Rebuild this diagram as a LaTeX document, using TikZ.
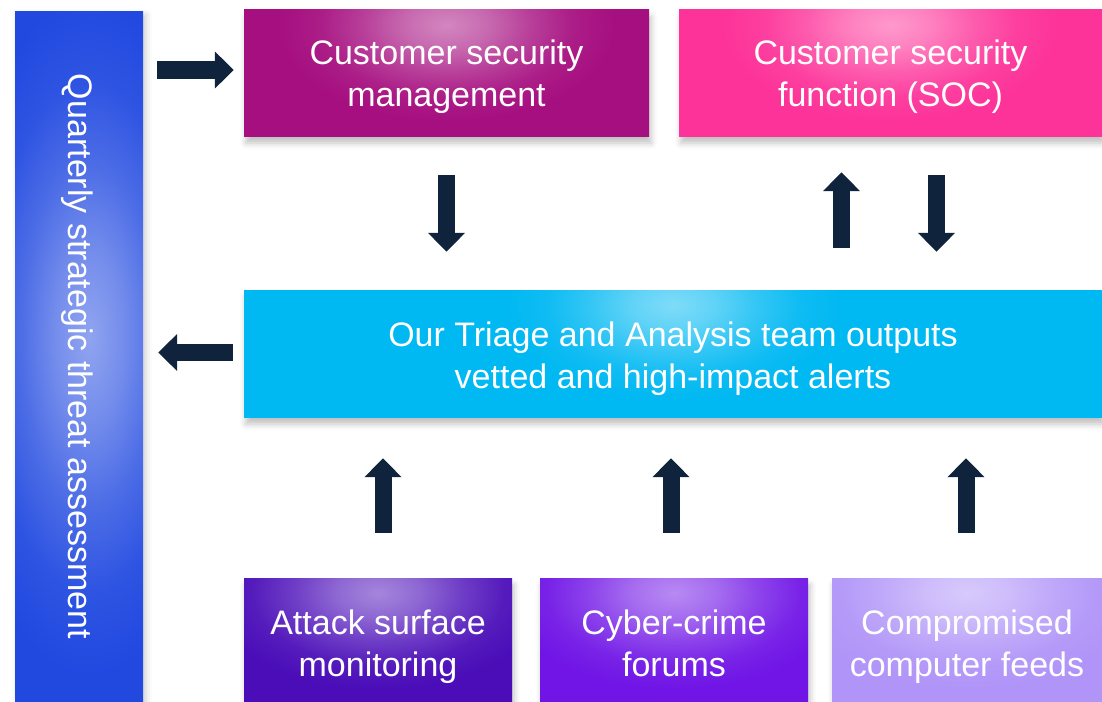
\documentclass[tikz,border=0pt]{standalone}
\usepackage{fontspec}
\setmainfont{Liberation Sans}
\usetikzlibrary{arrows.meta,positioning,calc,shadows.blur}

\definecolor{barblue}{HTML}{2149E0}
\definecolor{mgmtpurple}{HTML}{A60F80}
\definecolor{socpink}{HTML}{FD3399}
\definecolor{triagecyan}{HTML}{00B8F2}
\definecolor{atkviolet}{HTML}{4A0DB8}
\definecolor{forumviolet}{HTML}{7015E6}
\definecolor{feedlilac}{HTML}{B094F8}
\definecolor{arrowink}{HTML}{0F243C}

% soft glow: light in the middle, fading out to the base colour
\colorlet{glowc}{white}\colorlet{basec}{black}
\pgfdeclareradialshading[glowc,basec]{boxglow}{\pgfpoint{0bp}{0bp}}{%
  color(0bp)=(glowc); color(2bp)=(glowc!75!basec); color(4bp)=(glowc!40!basec);
  color(6bp)=(glowc!12!basec); color(8bp)=(basec); color(50bp)=(basec)}

\tikzset{
  box/.style={fill=#1, inner sep=0pt,
    blur shadow={shadow xshift=2pt, shadow yshift=-7pt, shadow blur radius=6pt, shadow opacity=25},
    path picture={\colorlet{glowc}{#1!50!white}\colorlet{basec}{#1}
      \shade[shading=boxglow]
      ($(path picture bounding box.north)+(-525,-285)$) rectangle
      ($(path picture bounding box.north)+(525,315)$);}},
  boxtext/.style={text=white, align=center, inner sep=0pt, anchor=base,
    font=\fontsize{34}{42}\selectfont},
  blockarr/.style={draw=arrowink, line width=17pt,
    -{Triangle[length=19pt, width=36pt, fill=arrowink]}}
}

\begin{document}
\begin{tikzpicture}[x=1pt, y=-1pt]
  \useasboundingbox (0,0) rectangle (1102,701);

  % the long bar on the left
  \node[fill=barblue, minimum width=128pt, minimum height=689pt, inner sep=0pt,
        blur shadow={shadow xshift=3pt, shadow yshift=-3pt, shadow blur radius=6pt, shadow opacity=20},
        path picture={\colorlet{glowc}{barblue!50!white}\colorlet{basec}{barblue}
          \shade[shading=boxglow]
          ($(path picture bounding box.center)+(-415,-1080)$) rectangle
          ($(path picture bounding box.center)+(435,1040)$);}]
        (bar) at (79,356.5) {};
  \node[boxtext, rotate=-90] (bartext) at (68,356.5) {Quarterly strategic threat assessment};

  % top row
  \node[box=mgmtpurple, minimum width=405pt, minimum height=126pt] (mgmt) at (446.5,73) {};
  \node[box=socpink, minimum width=423pt, minimum height=126pt] (soc) at (890.5,73) {};
  \node[boxtext] (mgmttext) at (mgmt.center |- 0,106.5) {Customer security\\management};
  \node[boxtext] (soctext) at (soc.center |- 0,106.5) {Customer security\\function (SOC)};

  % the triage team
  \node[box=triagecyan, minimum width=858pt, minimum height=127pt] (triage) at (673,353.5) {};
  \node[boxtext] (triagetext) at (triage.center |- 0,388) {Our Triage and Analysis team outputs\\vetted and high-impact alerts};

  % sources at the bottom
  \node[box=atkviolet, minimum width=268pt, minimum height=123pt] (atk) at (378,639.5) {};
  \node[box=forumviolet, minimum width=268pt, minimum height=123pt] (forums) at (674,639.5) {};
  \node[box=feedlilac, minimum width=270pt, minimum height=123pt] (feeds) at (967,639.5) {};
  \node[boxtext] (atktext) at (atk.center |- 0,676) {Attack surface\\monitoring};
  \node[boxtext] (forumstext) at (forums.center |- 0,676) {Cyber-crime\\forums};
  \node[boxtext] (feedstext) at (feeds.center |- 0,676) {Compromised\\computer feeds};

  % the arrows
  \draw[blockarr] ($(bar.east |- mgmt.west)+(14,-3)$) -- ($(mgmt.west)+(-10,-3)$);
  \draw[blockarr] ($(triage.west)+(-11,-1)$) -- ($(bar.east |- triage.west)+(15,-1)$);
  \draw[blockarr] ($(mgmt.south)+(0,39)$) -- ($(mgmt.south |- triage.north)+(0,-38)$);
  \draw[blockarr] ($(soc.south |- triage.north)+(-49,-42)$) -- ($(soc.south)+(-49,36)$);
  \draw[blockarr] ($(soc.south)+(46,39)$) -- ($(soc.south |- triage.north)+(46,-38)$);
  \foreach \src/\dx in {atk/5, forums/-3, feeds/-1}
    \draw[blockarr] ($(\src.north)+(\dx,-45)$) -- ($(\src.north |- triage.south)+(\dx,41)$);
\end{tikzpicture}
\end{document}
